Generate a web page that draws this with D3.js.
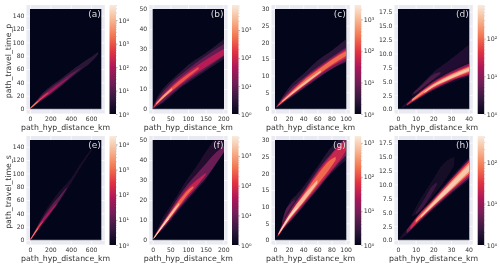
<!DOCTYPE html>
<html>
<head>
<meta charset="utf-8">
<script src="https://cdn.jsdelivr.net/npm/d3@7"></script>
<style>
  html, body { margin: 0; padding: 0; background: #fff; overflow: hidden; }
  text { font-family: "DejaVu Sans", sans-serif; }
</style>
</head>
<body>
<svg id="chart" width="500" height="267"></svg>
<script>
const panelNames = ['(a)', '(b)', '(c)', '(d)', '(e)', '(f)', '(g)', '(h)'];
const yTitles = ['path_travel_time_p', 'path_travel_time_s'];
const xTitle = 'path_hyp_distance_km';

const xMax = [700, 202, 101, 40.4, 700, 202, 101, 40.4];
const yMax = [150, 50, 30, 18, 150, 50, 30, 18];
const xTicks = [[0, 200, 400, 600], [0, 50, 100, 150, 200], [0, 20, 40, 60, 80, 100], [0, 10, 20, 30, 40]];
const yTicks = [d3.range(0, 141, 20), d3.range(0, 51, 10), d3.range(0, 31, 5), d3.range(0, 17.6, 2.5)];
// top of each colorbar, in decades of counts
const cbarTop = [4.64, 3.89, 3.45, 2.89, 4.33, 3.67, 3.2, 2.63];

// rocket colormap
const rocket = ['#03051a', '#35193e', '#701f57', '#ad1759', '#e13342', '#f37651', '#f6b48f', '#faebdd'];

// density outlines: [log10 count, [[distance, low, high], ...]]
const bandsA = [
  [0.5, [[0, 0, 1], [50, 5, 10], [100, 11, 20], [200, 21, 34], [300, 33, 45], [400, 46, 57], [500, 58, 68], [600, 70, 78], [670, 82, 86]]],
  [1.2, [[0, 0, 1], [50, 6, 9], [100, 12, 18], [200, 23, 31], [300, 35, 42], [400, 48, 53], [500, 61, 62]]],
  [2, [[0, 0, 1], [50, 6, 9], [100, 13, 17], [200, 24, 28], [300, 37, 39], [370, 45, 46]]],
  [2.8, [[0, 0, 1], [50, 6.5, 8.5], [100, 13, 15.5], [180, 23.5, 25]]],
  [3.5, [[0, 0, 1], [30, 4, 6], [80, 11, 12]]],
];
const bandsB = [
  [0.4, [[0.5, 0, 1], [10, 1, 5], [20, 2, 8], [50, 6, 14], [75, 10, 18], [100, 13, 22], [150, 19, 28], [202, 25, 35]]],
  [1, [[1, 0.2, 1], [10, 1.5, 4], [20, 2.5, 6.5], [50, 7, 12.5], [100, 14, 20], [150, 20, 26.5], [202, 26.5, 32.5]]],
  [1.8, [[2, 0.3, 1], [10, 2, 3.5], [20, 3.5, 5.5], [50, 8, 11], [100, 15, 18.5], [150, 21, 24.5], [202, 27, 30]]],
  [2.5, [[5, 1, 1.5], [20, 4, 5], [50, 8.5, 10.3], [100, 15.8, 17.5], [130, 20, 21]]],
  [3.2, [[10, 2.3, 3], [30, 5.5, 6.8], [55, 9.5, 10.5]]],
];
const bandsC = [
  [0.4, [[2, 0.3, 0.8], [10, 1.5, 3.5], [20, 3, 6.5], [40, 6, 10.5], [60, 9, 14.5], [80, 12, 17.5], [101, 14, 21]]],
  [1, [[2, 0.4, 0.7], [10, 1.8, 3], [20, 3.2, 5.5], [40, 6.3, 9.2], [60, 9.3, 12.5], [80, 12, 15.5], [101, 14.5, 18.5]]],
  [1.8, [[3, 0.6, 0.9], [10, 2, 2.8], [20, 3.5, 4.8], [40, 6.7, 8.8], [60, 9.8, 12], [80, 12.8, 15], [101, 15.3, 18]]],
  [2.4, [[5, 1, 1.3], [20, 3.7, 4.5], [40, 7, 8.4], [60, 10.1, 11.6], [80, 13.2, 14.7], [101, 16, 17.4]]],
  [3, [[10, 2.1, 2.4], [25, 4.6, 5.2], [45, 7.8, 8.6], [65, 11, 11.6]]],
];
const bandsD = [
  [0.25, [[8, 2.4, 2.8], [15, 3.8, 5], [20, 5, 6.6], [28, 6.5, 8.5], [40, 8.5, 11.5]]],
  [0.55, [[9, 2.7, 3], [15, 4, 4.8], [20, 5.3, 6.2], [24, 6.3, 6.6]]],
  [0.2, [[2, 0.1, 0.3], [10, 1.5, 2.7], [20, 3.3, 5.2], [30, 4.7, 7], [40.4, 5.8, 8.6]]],
  [1, [[5, 0.6, 0.9], [10, 1.6, 2.4], [20, 3.5, 4.9], [30, 5, 6.7], [40.4, 6.1, 8.2]]],
  [1.6, [[5, 0.7, 0.85], [10, 1.7, 2.3], [20, 3.7, 4.7], [30, 5.2, 6.4], [40.4, 6.4, 7.8]]],
  [2.2, [[8, 1.4, 1.8], [20, 3.9, 4.5], [30, 5.4, 6.2], [40.4, 6.7, 7.6]]],
  [2.6, [[15, 2.9, 3.1], [20, 4, 4.3], [30, 5.5, 6], [40.4, 6.9, 7.4]]],
];
const bandsE = [
  [0.3, [[0, 0, 1], [50, 8, 15], [100, 17, 30], [200, 38, 55], [300, 60, 75], [400, 84, 92], [500, 110, 115], [610, 135, 138]]],
  [1, [[0, 0, 1], [50, 9, 14], [100, 20, 27], [200, 40, 50], [300, 62, 68], [360, 77, 79]]],
  [1.8, [[0, 0, 1], [20, 3, 5], [50, 9.5, 13.5], [100, 21, 26], [200, 41, 45], [260, 53, 55]]],
  [2.6, [[0, 0, 1], [10, 1, 3], [50, 10, 13], [100, 21.5, 24.5], [130, 28, 29]]],
  [3.4, [[5, 0.5, 1.5], [50, 10.5, 12.5], [80, 17, 18]]],
];
const bandsF = [
  [0.3, [[2, 0.5, 1], [10, 2, 4], [25, 4.5, 10], [50, 9.5, 17], [75, 15, 24], [100, 20, 31], [125, 25, 37], [150, 30, 44], [175, 37, 50], [202, 44, 53]]],
  [1, [[2, 0.5, 1], [10, 2.2, 3.6], [25, 5, 8], [50, 10.3, 15], [75, 15.8, 22], [100, 21, 28], [125, 26, 33], [150, 31, 38], [175, 37, 43], [202, 44, 47]]],
  [1.8, [[2, 0.5, 1], [10, 2.5, 3.4], [25, 5.5, 7.5], [50, 10.8, 14], [75, 16.5, 20.5], [100, 22, 26], [125, 27, 30], [150, 32.5, 33.5]]],
  [2.5, [[5, 1, 1.8], [25, 5.8, 7.2], [50, 11.2, 13.6], [75, 17, 19.7], [100, 23, 25], [115, 26, 27]]],
  [3.2, [[3, 0.6, 1], [25, 5.9, 7], [50, 11.5, 13.3], [75, 17.6, 18.6]]],
  [3.6, [[2, 0.5, 0.8], [15, 3.5, 4.1], [30, 7, 7.8], [45, 10.3, 10.9]]],
];
const bandsG = [
  [0.3, [[2, 0.5, 1], [10, 2.5, 5], [20, 5, 11], [30, 7.5, 13.5], [40, 10, 16], [60, 15, 22], [80, 20, 28], [101, 24, 32]]],
  [0.7, [[10, 4.6, 5.4], [15, 7, 9], [20, 9, 10.5], [28, 11.5, 12.2]]],
  [1, [[4, 1, 1.5], [10, 3, 4.5], [20, 5.3, 8.5], [40, 10.3, 14.5], [60, 15.3, 20.8], [80, 20.5, 26], [101, 25.5, 31]]],
  [1.6, [[4, 1.1, 1.5], [10, 3.1, 4.2], [20, 5.7, 7.8], [40, 10.8, 14], [60, 15.8, 20.2], [80, 21, 25.5], [95, 25, 29], [101, 27, 29.5]]],
  [2.2, [[5, 1.4, 2], [20, 6, 7.5], [40, 11.2, 13.5], [60, 16.5, 19.5], [78, 21.5, 24], [86, 24, 25]]],
  [2.8, [[5, 1.6, 2], [20, 6.2, 7.4], [40, 11.4, 13.2], [60, 17, 18]]],
  [3.1, [[8, 2.6, 3], [20, 6.5, 7.1], [32, 9.6, 10]]],
];
const bandsH = [
  [0.15, [[8, 4.2, 4.6], [12, 5, 7], [20, 8, 11], [25, 10, 13.5], [32, 13.5, 15]]],
  [0.4, [[10, 4.5, 4.9], [14, 5.8, 6.9], [20, 8.8, 9.9], [22, 9.9, 10.3]]],
  [0.2, [[1, 0.1, 0.4], [5, 1, 2], [10, 2.5, 4], [20, 5.5, 7.6], [30, 8.2, 11.3], [40.4, 10.8, 14.9]]],
  [0.8, [[5, 1.2, 1.8], [10, 2.7, 3.9], [20, 5.7, 7.4], [30, 8.5, 11], [40.4, 11.2, 14.6]]],
  [1.4, [[7, 1.9, 2.4], [10, 2.9, 3.8], [20, 5.9, 7.2], [30, 8.8, 10.8], [40.4, 11.6, 14.3]]],
  [2, [[10, 3.1, 3.6], [20, 6.1, 7], [30, 9, 10.5], [40.4, 12, 14]]],
  [2.4, [[13, 4, 4.3], [20, 6.2, 6.8], [30, 9.2, 10.2], [40.4, 12.4, 13.6]]],
];
const allBands = [bandsA, bandsB, bandsC, bandsD, bandsE, bandsF, bandsG, bandsH];

const superscripts = ['⁰', '¹', '²', '³', '⁴'];

// layout
const colLeft = [30, 152.7, 275, 398];
const heatW = 71.3;
const cbarLeft = [109.5, 232, 354.7, 477.7];
const rowTop = [9, 140];
const heatH = 100;

const svg = d3.select('#chart');
const defs = svg.append('defs');
defs.append('filter').attr('id', 'soft').attr('x', '-5%').attr('y', '-5%').attr('width', '110%').attr('height', '110%')
  .append('feGaussianBlur').attr('stdDeviation', 0.5);
defs.append('filter').attr('id', 'textSoft')
  .append('feGaussianBlur').attr('stdDeviation', 0.28);

const rocketScale = d3.scaleLinear()
  .domain(rocket.map((c, i) => i / (rocket.length - 1)))
  .range(rocket);

panelNames.forEach((name, i) => {
  const col = i % 4, row = Math.floor(i / 4);
  const left = colLeft[col], top = rowTop[row];
  const x = d3.scaleLinear().domain([0, xMax[i]]).range([left, left + heatW]);
  const y = d3.scaleLinear().domain([0, yMax[i]]).range([top + heatH, top]);
  const g = svg.append('g').attr('class', 'panel');

  // seaborn darkgrid frame
  g.append('rect')
    .attr('x', left - 3.5).attr('y', top - 4)
    .attr('width', heatW + 7).attr('height', heatH + 8.5)
    .attr('fill', '#eaeaf2');

  // white grid, only the margins stay visible
  const gridX = g.append('g')
    .attr('transform', `translate(0,${top + heatH + 4.5})`)
    .call(d3.axisBottom(x).tickValues(xTicks[col]).tickSize(-(heatH + 8.5)).tickFormat(''));
  const gridY = g.append('g')
    .attr('transform', `translate(${left - 3.5},0)`)
    .call(d3.axisLeft(y).tickValues(yTicks[col]).tickSize(-(heatW + 7)).tickFormat(''));
  [gridX, gridY].forEach(a => {
    a.select('.domain').remove();
    a.selectAll('line').attr('stroke', '#fff').attr('stroke-width', 0.7);
  });

  // density
  const clipId = `clip${i}`;
  defs.append('clipPath').attr('id', clipId).append('rect')
    .attr('x', left).attr('y', top).attr('width', heatW).attr('height', heatH);
  g.append('rect')
    .attr('x', left).attr('y', top).attr('width', heatW).attr('height', heatH)
    .attr('fill', rocket[0]);

  const area = d3.area()
    .x(d => x(d[0])).y0(d => y(d[1])).y1(d => y(d[2]))
    .curve(d3.curveMonotoneX);
  g.append('g').attr('clip-path', `url(#${clipId})`)
    .append('g').attr('filter', 'url(#soft)')
    .selectAll('path')
    .data(allBands[i])
    .join('path')
    .attr('d', d => area(d[1]))
    .attr('fill', d => rocketScale(d[0] / cbarTop[i]));

  g.append('line')
    .attr('x1', left).attr('x2', left + heatW)
    .attr('y1', top + heatH).attr('y2', top + heatH)
    .attr('stroke', '#778').attr('stroke-width', 0.7);

  // tick labels and titles
  const texts = g.append('g').attr('filter', 'url(#textSoft)');
  const xAxis = texts.append('g')
    .attr('transform', `translate(0,${top + heatH + 4.5})`)
    .call(d3.axisBottom(x).tickValues(xTicks[col]).tickSize(0).tickPadding(3).tickFormat(d3.format('d')));
  const yAxis = texts.append('g')
    .attr('transform', `translate(${left - 3.5},0)`)
    .call(d3.axisLeft(y).tickValues(yTicks[col]).tickSize(0).tickPadding(2)
      .tickFormat(col === 3 ? d3.format('.1f') : d3.format('d')));
  [xAxis, yAxis].forEach(a => {
    a.select('.domain').remove();
    a.selectAll('text').attr('fill', '#333').style('font-size', '6.1px');
  });

  texts.append('text')
    .attr('x', left + heatW / 2).attr('y', top + heatH + 21)
    .attr('text-anchor', 'middle').attr('fill', '#333')
    .style('font-size', '7.8px').text(xTitle);

  if (col === 0) {
    texts.append('text')
      .attr('transform', `translate(10.5,${top + heatH / 2 + 2}) rotate(-90)`)
      .attr('text-anchor', 'middle').attr('fill', '#333')
      .style('font-size', '7.8px').text(yTitles[row]);
  }

  g.append('text')
    .attr('filter', 'url(#textSoft)')
    .attr('x', left + heatW - 0.5).attr('y', top + 8)
    .attr('text-anchor', 'end').attr('fill', '#ddd')
    .style('font-size', '9px').text(name);

  // colorbar
  const cTop = top - 4, cH = heatH + 9;
  const gradId = `cbar${i}`;
  const grad = defs.append('linearGradient').attr('id', gradId)
    .attr('x1', 0).attr('x2', 0).attr('y1', 1).attr('y2', 0);
  rocket.forEach((c, k) => grad.append('stop')
    .attr('offset', k / (rocket.length - 1)).attr('stop-color', c));
  g.append('rect')
    .attr('x', cbarLeft[col]).attr('y', cTop)
    .attr('width', 6.5).attr('height', cH)
    .attr('fill', `url(#${gradId})`);

  const c = d3.scaleLog().domain([1, Math.pow(10, cbarTop[i])]).range([cTop + cH, cTop]);
  const majors = d3.range(0, Math.floor(cbarTop[i]) + 1);
  const cAxis = g.append('g')
    .attr('filter', 'url(#textSoft)')
    .attr('transform', `translate(${cbarLeft[col] + 6.5},0)`)
    .call(d3.axisRight(c).tickValues(majors.map(k => Math.pow(10, k)))
      .tickSize(1.5).tickPadding(1).tickFormat(d => '10' + superscripts[Math.round(Math.log10(d))]));
  cAxis.select('.domain').remove();
  cAxis.selectAll('line').attr('stroke', '#555').attr('stroke-width', 0.4);
  cAxis.selectAll('text').attr('fill', '#333').style('font-size', '6.3px');

  // minor ticks on the colorbar
  const minors = c.ticks(40).filter(v => !majors.includes(Math.log10(v)));
  g.append('g').selectAll('line').data(minors).join('line')
    .attr('x1', cbarLeft[col] + 6.5).attr('x2', cbarLeft[col] + 7.5)
    .attr('y1', d => c(d)).attr('y2', d => c(d))
    .attr('stroke', '#777').attr('stroke-width', 0.3);
});
</script>
</body>
</html>
